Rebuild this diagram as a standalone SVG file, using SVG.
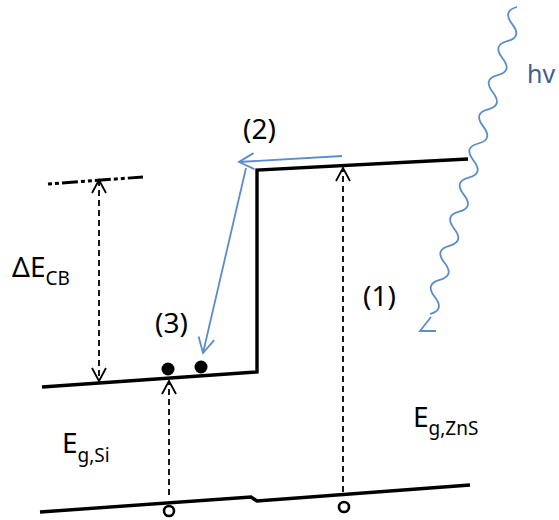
<svg xmlns="http://www.w3.org/2000/svg" width="559" height="520" viewBox="0 0 559 520">
<style>
.band{fill:none;stroke:#000;stroke-width:3.4;stroke-linecap:butt}
.dash{fill:none;stroke:#000;stroke-width:1.8;stroke-dasharray:6 4}
.blue{fill:none;stroke:#5B8BD0;stroke-width:1.8}
.lbl{font-family:"Noto Sans","Open Sans",sans-serif;font-size:28px;fill:#000}
.sub{font-size:19px}
.hv{font-family:"Noto Sans","Open Sans",sans-serif;font-size:25px;fill:#3F5F8F}
</style>
<defs>
<marker id="ab" markerUnits="userSpaceOnUse" markerWidth="16" markerHeight="18" viewBox="-1 -9 16 18" refX="13" refY="0" orient="auto-start-reverse">
<path d="M0,-7 L13,0 L0,7" fill="none" stroke="#000" stroke-width="1.8"/>
</marker>
<marker id="bb" markerUnits="userSpaceOnUse" markerWidth="18" markerHeight="20" viewBox="-1 -10 18 20" refX="15" refY="0" orient="auto">
<path d="M0,-8 L15,0 L0,8" fill="none" stroke="#5B8BD0" stroke-width="1.8"/>
</marker>
</defs>
<g id="bands">
<polyline class="band" points="42,387 257,372 257,170 468,159"/>
<polyline class="band" points="40,512 251,497 257,501 470,485"/>
<line x1="48" y1="184" x2="143" y2="177" stroke="#000" stroke-width="3" stroke-dasharray="4 3 4 3 16 3"/>
</g>
<g id="carriers">
<circle cx="168" cy="369" r="6.5"/>
<circle cx="201" cy="367" r="6.5"/>
<circle cx="169" cy="511" r="5" fill="#fff" stroke="#000" stroke-width="2.6"/>
<circle cx="344" cy="507" r="5" fill="#fff" stroke="#000" stroke-width="2.6"/>
</g>
<g id="connectors">
<line class="dash" x1="99" y1="180" x2="99" y2="381" marker-start="url(#ab)" marker-end="url(#ab)"/>
<line class="dash" x1="169" y1="495" x2="169" y2="381" marker-end="url(#ab)"/>
<line class="dash" x1="343" y1="492" x2="343" y2="168" marker-end="url(#ab)"/>
<line class="blue" x1="342" y1="156" x2="239" y2="162" marker-end="url(#bb)"/>
<line class="blue" x1="246" y1="168" x2="203" y2="353" marker-end="url(#bb)"/>
<path class="blue" d="M517,7 Q502,11 512.2,24.1 T507.3,41.1 T502.5,58.2 T497.7,75.2 T492.8,92.3 T488,109.3 T483.2,126.4 T478.3,143.5 T473.5,160.5 T468.7,177.6 T463.8,194.6 T459,211.7 T454.2,228.7 T449.3,245.8 T444.5,262.8 T439.7,279.9 T434.8,297 T430,314"/>
<path class="blue" d="M431,317 L420,331 L436,331"/>
</g>
<g id="labels">
<text class="lbl" x="12" y="277">ΔE<tspan class="sub" dy="8">CB</tspan></text>
<text class="lbl" x="62" y="453">E<tspan class="sub" dy="9">g,Si</tspan></text>
<text class="lbl" x="413" y="427">E<tspan class="sub" dy="8">g,ZnS</tspan></text>
<text class="lbl" x="155" y="333">(3)</text>
<text class="lbl" x="243" y="139">(2)</text>
<text class="lbl" x="363" y="306">(1)</text>
<text class="hv" x="527" y="83">hv</text>
</g>
</svg>
